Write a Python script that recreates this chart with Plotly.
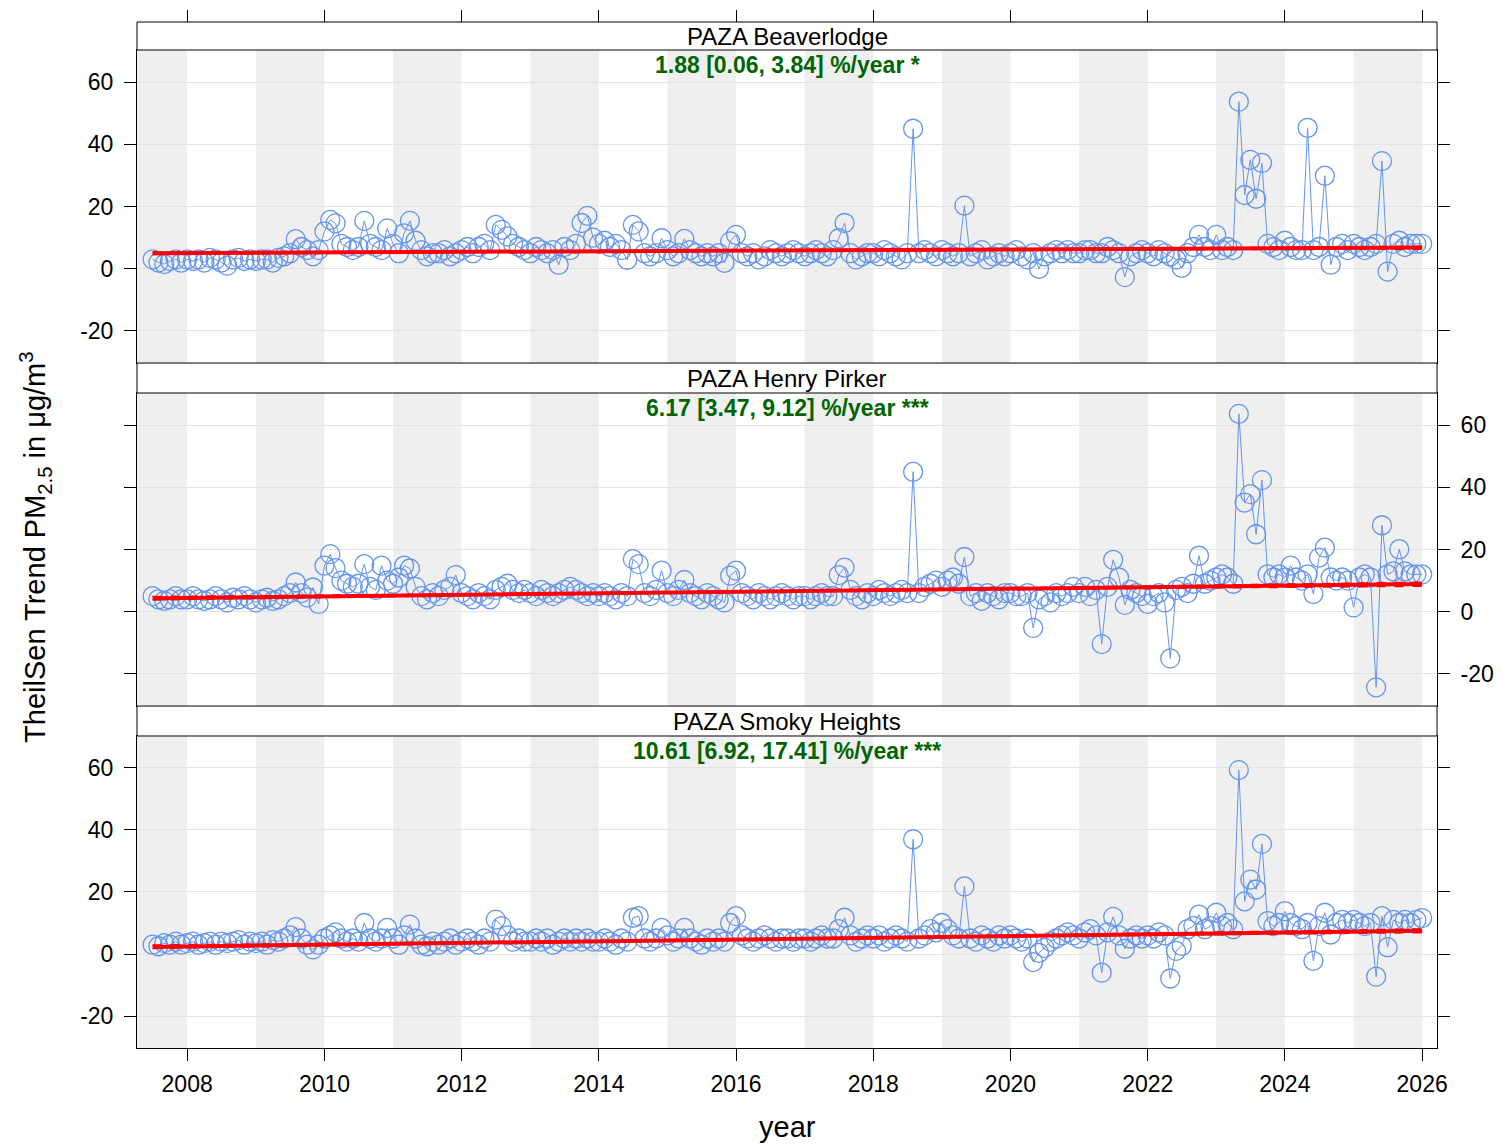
import plotly.graph_objects as go
import pandas as pd

# ---------------- data ----------------
sites = ["PAZA Beaverlodge", "PAZA Henry Pirker", "PAZA Smoky Heights"]
trend_labels = ["1.88 [0.06, 3.84] %/year *",
                "6.17 [3.47, 9.12] %/year ***",
                "10.61 [6.92, 17.41] %/year ***"]
month_start = "2007-07-01"
month_end = "2026-01-01"

beaverlodge = [
    3, 2, 1.5, 2.5, 3, 2,                                   # 2007 Jul-Dec
    3, 2.5, 3, 2, 3.5, 3, 2, 1, 3, 3.5, 2.5, 3,               # 2008
    2.5, 3, 3, 2, 3.5, 4, 5, 9.5, 7, 6, 4, 6,                 # 2009
    12, 15.7, 14.6, 8, 7, 6, 7, 15.4, 8, 7, 6, 13,            # 2010
    8, 5, 11.4, 15.4, 9, 6, 4, 5, 5, 6, 4, 5,                 # 2011
    6, 7, 5, 7, 8, 6, 14.1, 12.5, 10.4, 8, 7, 6,              # 2012
    5, 7, 6, 5, 6, 1.3, 7, 6, 8, 14.7, 17, 10,                # 2013
    8, 9, 7, 8, 6, 2.9, 14.1, 12, 5, 4, 5, 9.8,               # 2014
    6, 4, 5, 9.6, 6, 5, 4, 5, 4, 5, 1.9, 8.8,                 # 2015
    10.9, 5, 4, 5, 3, 4, 6, 5, 4, 5, 6, 5,                    # 2016
    4, 5, 6, 5, 4, 6, 9.8, 14.7, 5, 3, 4, 5,                  # 2017
    5, 4, 6, 5, 4, 3, 5, 45, 5, 6, 5, 4,                      # 2018
    6, 5, 4, 5, 20.3, 4, 5, 6, 3, 4, 5, 4,                    # 2019
    5, 6, 4, 3, 5, 0, 4, 5, 6, 5, 6, 5,                       # 2020
    5, 6, 6, 5, 5, 7, 6, 5, -2.7, 4, 5, 6,                    # 2021
    5, 4, 6, 5, 4, 3, 0.3, 5, 7, 10.9, 7, 6,                  # 2022
    10.9, 6, 7, 6, 53.7, 23.7, 35, 22.5, 34, 8, 7, 6,         # 2023
    9, 7, 6, 6, 45.3, 6, 7, 29.9, 1.3, 7, 8, 6,               # 2024
    8, 7, 6, 7, 8, 34.6, -0.9, 8, 9, 7, 8, 8,                 # 2025
    8,                                                       # 2026 Jan
]
henry_pirker = [
    5, 4, 3.5, 4, 5, 4,
    4, 5, 4, 3.5, 4, 5, 4, 3, 4.5, 4, 5, 4,
    3, 4, 4.5, 3.5, 4, 5, 6, 9.4, 6, 4.6, 7.8, 2.5,
    14.8, 18.5, 14, 10, 9, 8, 9, 15.3, 8, 7, 14.8, 10,
    9, 11, 14.8, 13.9, 8, 5, 4, 6, 5, 7, 8, 11.8,
    6, 5, 4, 6, 5, 4, 7, 8, 9, 7, 6, 7,
    6, 5, 7, 6, 5, 6, 7, 8, 7, 6, 5, 6,
    5, 6, 5, 4, 6, 5, 16.9, 15.3, 6, 5, 7, 13.2,
    6, 5, 7, 10.2, 6, 5, 4, 6, 5, 4, 3, 11.6,
    13.2, 6, 5, 4, 6, 5, 4, 5, 6, 5, 4, 5,
    5, 4, 5, 6, 5, 5, 11.8, 14.2, 7, 5, 4, 6,
    5, 7, 6, 5, 6, 7, 6, 45, 6, 8, 9, 10,
    8, 10, 11, 9, 17.6, 5, 6, 3.5, 6, 5, 4, 6,
    6, 5, 5, 6, -5.2, 4, 5, 3, 6, 5, 6, 8,
    6, 8, 5, 7, -10.4, 8, 16.7, 11, 2.2, 7, 6, 5,
    2.5, 5, 6, 3, -15, 7, 8, 6, 9, 18, 9, 10,
    11, 12, 11, 9, 63.6, 35.1, 37.8, 24.9, 42.3, 12, 11, 12,
    11, 14.8, 11, 10, 12, 5.7, 17.4, 20.6, 11, 10, 11, 10,
    1.4, 11, 12, 11, -24.3, 27.8, 12, 13, 20.1, 13, 12, 12,
    12,
]
smoky_heights = [
    3, 2.5, 3.5, 3, 4, 3,
    3.5, 4, 3, 3.5, 4, 3, 4, 3.5, 4, 4.5, 3, 4,
    3.5, 4, 3, 4.5, 4, 5, 6, 8.7, 5, 3, 1.5, 3,
    5, 6, 7, 5, 4, 5, 4, 10, 5, 4, 5, 8.4,
    5, 3, 6, 9.5, 5, 3, 2.5, 4, 3, 4, 5, 3,
    4, 5, 4, 3, 5, 4, 11.1, 9, 6, 4, 5, 4,
    4, 5, 4, 5, 3, 4, 5, 4, 5, 4, 5, 4,
    4, 5, 4, 3, 5, 4, 11.7, 12.2, 5, 4, 5, 8.4,
    6, 4, 5, 8.4, 5, 4, 3, 5, 4, 5, 4, 10,
    12.2, 6, 5, 4, 5, 6, 5, 4, 5, 5, 4, 5,
    5, 4, 5, 6, 5, 5, 8, 11.7, 6, 4, 5, 6,
    5, 6, 4, 5, 6, 5, 4, 37, 5, 6, 8, 7,
    10, 8, 6, 5, 21.8, 5, 4, 6, 5, 4, 6, 5,
    6, 5, 4, 5, -2.6, 0.4, 2, 4, 5, 6, 7, 6,
    5, 7, 8, 6, -6, 7, 12, 6, 1.7, 5, 6, 5,
    6, 5, 7, 6, -7.9, 1, 2.6, 8, 9, 12.7, 8, 9,
    13.3, 9, 10, 8, 59.3, 17, 24, 20.8, 35.5, 10.6, 9, 10,
    13.8, 10, 9, 8, 10, -2.2, 9, 13.3, 6.3, 10, 11, 10,
    11, 10, 9, 10, -7.3, 12.2, 2.2, 11, 10, 11, 10, 11,
    11.6,
]
series = [beaverlodge, henry_pirker, smoky_heights]

# Theil-Sen trend line values at first / last month (fit, lower, upper)
trend_fit = [[5.0, 6.8], [4.3, 8.9], [2.3, 7.5]]
trend_lower = [[5.4, 6.3], [4.9, 8.2], [2.9, 6.9]]
trend_upper = [[4.6, 7.2], [3.8, 9.5], [1.8, 8.1]]

year_ticks = [2008, 2010, 2012, 2014, 2016, 2018, 2020, 2022, 2024, 2026]
y_ticks = [-20, 0, 20, 40, 60]
y_ticktext = ["-20", "0", "20", "40", "60"]
shaded_years = list(range(2007, 2026, 2))

# ---------------- figure ----------------
dates = pd.date_range(month_start, month_end, freq="MS")
for s in series:
    assert len(s) == len(dates), len(s)

FONT = "Liberation Sans, Arial, sans-serif"
BLUE = "#6495ED"
x_range = ["2007-04-09", "2026-03-21"]
y_range = [-30.3, 70.3]

# paper-domain layout (panel / strip boundaries)
plot_dom = [[0.6676, 0.9727], [0.3333, 0.6384], [0.0, 0.3041]]
strip_dom = [[0.9727, 1.0], [0.6384, 0.6676], [0.3041, 0.3333]]

fig = go.Figure()
xa_names = ["x", "x2", "x3"]
ya_names = ["y", "y2", "y3"]

for i in range(3):
    xa, ya = xa_names[i], ya_names[i]
    fig.add_trace(go.Scatter(
        x=dates, y=series[i], mode="lines+markers",
        line=dict(color=BLUE, width=1),
        marker=dict(symbol="circle-open", size=19, color=BLUE, line=dict(width=1.3)),
        xaxis=xa, yaxis=ya, showlegend=False, hoverinfo="x+y"))
    for vals, dash, w in [(trend_lower[i], "dash", 1.5), (trend_upper[i], "dash", 1.5),
                          (trend_fit[i], "solid", 4)]:
        fig.add_trace(go.Scatter(
            x=[dates[0], dates[-1]], y=vals, mode="lines",
            line=dict(color="red", width=w, dash=dash),
            xaxis=xa, yaxis=ya, showlegend=False, hoverinfo="skip"))
    # shaded alternate years
    for yr in shaded_years:
        fig.add_shape(type="rect", xref=xa, yref=f"{ya} domain",
                      x0=f"{yr}-01-01", x1=f"{yr+1}-01-01", y0=0, y1=1,
                      fillcolor="#efefef", line=dict(width=0), layer="below")
    # strip
    fig.add_shape(type="rect", xref="paper", yref="paper", x0=0, x1=1,
                  y0=strip_dom[i][0], y1=strip_dom[i][1],
                  fillcolor="white", line=dict(color="black", width=1))
    fig.add_annotation(xref="paper", yref="paper", x=0.5, xanchor="center",
                       y=(strip_dom[i][0] + strip_dom[i][1]) / 2, yanchor="middle",
                       text=sites[i], showarrow=False,
                       font=dict(family=FONT, size=24, color="black"))
    fig.add_annotation(xref="paper", yref="paper", x=0.5, xanchor="center",
                       y=plot_dom[i][1], yanchor="top", yshift=0,
                       text=f"<b>{trend_labels[i]}</b>",
                       showarrow=False, font=dict(family=FONT, size=23, color="#006400"))

# dummy trace for top tick axis
fig.add_trace(go.Scatter(x=[dates[0]], y=[None], xaxis="x4", yaxis="y",
                         showlegend=False, hoverinfo="skip"))

tickvals_x = [f"{y}-01-01" for y in year_ticks]
ticktext_x = [str(y) for y in year_ticks]
common_x = dict(range=x_range, type="date", showgrid=False, zeroline=False,
                showline=True, linecolor="black", linewidth=1, mirror=True,
                tickvals=tickvals_x, ticktext=ticktext_x)
common_y = dict(range=y_range, tickvals=y_ticks, ticktext=y_ticktext,
                showgrid=True, gridcolor="#e3e3e3",
                gridwidth=1, zeroline=False, showline=True, linecolor="black",
                linewidth=1, mirror="ticks", ticks="outside", ticklen=12,
                ticklabelstandoff=6,
                tickcolor="black", tickfont=dict(family=FONT, size=23, color="black"))

fig.update_layout(
    xaxis=dict(common_x, domain=[0, 1], anchor="y", showticklabels=False, ticks=""),
    xaxis2=dict(common_x, domain=[0, 1], anchor="y2", matches="x",
                showticklabels=False, ticks=""),
    xaxis3=dict(common_x, domain=[0, 1], anchor="y3", matches="x",
                ticks="outside", ticklen=12, tickcolor="black", ticklabelstandoff=3,
                tickfont=dict(family=FONT, size=23, color="black")),
    xaxis4=dict(range=x_range, type="date", overlaying="x", anchor="free", position=1.0,
                side="top", tickvals=tickvals_x, ticks="outside", ticklen=12,
                tickcolor="black", showticklabels=False, showgrid=False,
                showline=False, zeroline=False),
    yaxis=dict(common_y, domain=plot_dom[0], anchor="x", side="left"),
    yaxis2=dict(common_y, domain=plot_dom[1], anchor="x2", side="right"),
    yaxis3=dict(common_y, domain=plot_dom[2], anchor="x3", side="left"),
    width=1495, height=1137,
    margin=dict(l=129, r=66, t=14, b=97, autoexpand=False),
    paper_bgcolor="white", plot_bgcolor="white",
    font=dict(family=FONT, color="black"),
)

fig.add_annotation(xref="paper", yref="paper", x=-0.078, xanchor="center",
                   y=0.488, yanchor="middle",
                   text="TheilSen Trend PM<sub>2.5</sub> in \u03bcg/m<sup>3</sup>",
                   textangle=-90, showarrow=False,
                   font=dict(family=FONT, size=29, color="black"))
fig.add_annotation(xref="paper", yref="paper", x=0.5, xanchor="center",
                   y=-0.077, yanchor="middle",
                   text="year", showarrow=False,
                   font=dict(family=FONT, size=29, color="black"))

fig.write_html("out.html")
